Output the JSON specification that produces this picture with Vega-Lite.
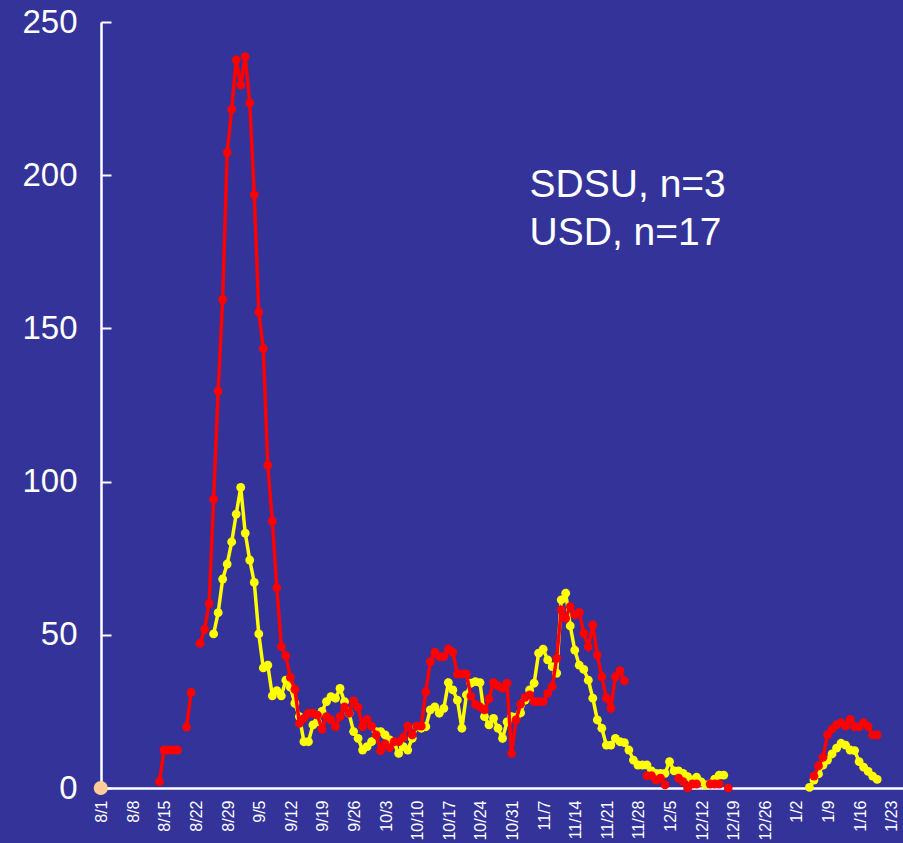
{
"$schema": "https://vega.github.io/schema/vega-lite/v6.json",
"width": 802, "height": 766,
"autosize": {"type": "none"},
"padding": {"left": 101, "top": 22, "right": 0, "bottom": 55},
"background": "#333399",
"config": {"view": {"stroke": null}, "font": "Liberation Sans"},
"data": {"values": [
{"date":"2009/08/13","red":2.1,"yellow":null},
{"date":"2009/08/14","red":12.4,"yellow":null},
{"date":"2009/08/15","red":12.4,"yellow":null},
{"date":"2009/08/16","red":12.4,"yellow":null},
{"date":"2009/08/17","red":12.4,"yellow":null},
{"date":"2009/08/18","red":null,"yellow":null},
{"date":"2009/08/19","red":19.9,"yellow":null},
{"date":"2009/08/20","red":31.2,"yellow":null},
{"date":"2009/08/21","red":null,"yellow":null},
{"date":"2009/08/22","red":47.2,"yellow":null},
{"date":"2009/08/23","red":51.8,"yellow":null},
{"date":"2009/08/24","red":60.2,"yellow":null},
{"date":"2009/08/25","red":94.3,"yellow":50.3},
{"date":"2009/08/26","red":129.5,"yellow":57.2},
{"date":"2009/08/27","red":159.4,"yellow":68.2},
{"date":"2009/08/28","red":207.4,"yellow":73.1},
{"date":"2009/08/29","red":221.5,"yellow":80.3},
{"date":"2009/08/30","red":237.6,"yellow":89.4},
{"date":"2009/08/31","red":229.4,"yellow":98.1},
{"date":"2009/09/01","red":238.7,"yellow":83.2},
{"date":"2009/09/02","red":223.6,"yellow":74.4},
{"date":"2009/09/03","red":193.6,"yellow":67.1},
{"date":"2009/09/04","red":155.3,"yellow":50.3},
{"date":"2009/09/05","red":143.4,"yellow":39.2},
{"date":"2009/09/06","red":105.4,"yellow":40.1},
{"date":"2009/09/07","red":87.1,"yellow":30.1},
{"date":"2009/09/08","red":65.4,"yellow":31.8},
{"date":"2009/09/09","red":46.1,"yellow":30.1},
{"date":"2009/09/10","red":43.1,"yellow":35.2},
{"date":"2009/09/11","red":36.1,"yellow":32.9},
{"date":"2009/09/12","red":32.2,"yellow":27.6},
{"date":"2009/09/13","red":21.1,"yellow":23.3},
{"date":"2009/09/14","red":22.7,"yellow":15.1},
{"date":"2009/09/15","red":24.4,"yellow":15.1},
{"date":"2009/09/16","red":24.4,"yellow":20.6},
{"date":"2009/09/17","red":23.8,"yellow":21.6},
{"date":"2009/09/18","red":19.2,"yellow":25.0},
{"date":"2009/09/19","red":23.3,"yellow":28.2},
{"date":"2009/09/20","red":22.2,"yellow":29.8},
{"date":"2009/09/21","red":20.0,"yellow":29.3},
{"date":"2009/09/22","red":23.3,"yellow":32.5},
{"date":"2009/09/23","red":26.5,"yellow":28.2},
{"date":"2009/09/24","red":24.4,"yellow":24.4},
{"date":"2009/09/25","red":28.4,"yellow":18.4},
{"date":"2009/09/26","red":26.3,"yellow":16.2},
{"date":"2009/09/27","red":20.0,"yellow":12.4},
{"date":"2009/09/28","red":22.4,"yellow":13.5},
{"date":"2009/09/29","red":20.2,"yellow":15.1},
{"date":"2009/09/30","red":17.3,"yellow":18.4},
{"date":"2009/10/01","red":12.2,"yellow":18.4},
{"date":"2009/10/02","red":14.4,"yellow":17.3},
{"date":"2009/10/03","red":13.2,"yellow":15.7},
{"date":"2009/10/04","red":15.1,"yellow":14.6},
{"date":"2009/10/05","red":15.1,"yellow":11.3},
{"date":"2009/10/06","red":16.5,"yellow":13.5},
{"date":"2009/10/07","red":20.2,"yellow":12.4},
{"date":"2009/10/08","red":17.3,"yellow":16.2},
{"date":"2009/10/09","red":20.2,"yellow":20.0},
{"date":"2009/10/10","red":20.2,"yellow":19.5},
{"date":"2009/10/11","red":31.4,"yellow":20.0},
{"date":"2009/10/12","red":41.2,"yellow":25.5},
{"date":"2009/10/13","red":44.3,"yellow":26.5},
{"date":"2009/10/14","red":42.9,"yellow":24.4},
{"date":"2009/10/15","red":42.9,"yellow":26.0},
{"date":"2009/10/16","red":45.4,"yellow":34.4},
{"date":"2009/10/17","red":44.3,"yellow":32.0},
{"date":"2009/10/18","red":37.2,"yellow":28.7},
{"date":"2009/10/19","red":37.2,"yellow":19.5},
{"date":"2009/10/20","red":37.2,"yellow":30.4},
{"date":"2009/10/21","red":30.0,"yellow":34.2},
{"date":"2009/10/22","red":27.3,"yellow":34.7},
{"date":"2009/10/23","red":26.5,"yellow":34.4},
{"date":"2009/10/24","red":25.5,"yellow":23.3},
{"date":"2009/10/25","red":29.1,"yellow":20.6},
{"date":"2009/10/26","red":34.4,"yellow":22.7},
{"date":"2009/10/27","red":33.3,"yellow":19.5},
{"date":"2009/10/28","red":32.5,"yellow":16.2},
{"date":"2009/10/29","red":34.2,"yellow":21.6},
{"date":"2009/10/30","red":11.3,"yellow":23.3},
{"date":"2009/10/31","red":22.2,"yellow":23.1},
{"date":"2009/11/01","red":27.4,"yellow":24.5},
{"date":"2009/11/02","red":29.6,"yellow":28.7},
{"date":"2009/11/03","red":30.4,"yellow":32.0},
{"date":"2009/11/04","red":28.2,"yellow":34.2},
{"date":"2009/11/05","red":28.2,"yellow":44.0},
{"date":"2009/11/06","red":28.2,"yellow":45.3},
{"date":"2009/11/07","red":30.9,"yellow":41.8},
{"date":"2009/11/08","red":33.1,"yellow":39.6},
{"date":"2009/11/09","red":42.3,"yellow":37.5},
{"date":"2009/11/10","red":58.1,"yellow":61.4},
{"date":"2009/11/11","red":55.4,"yellow":63.6},
{"date":"2009/11/12","red":59.2,"yellow":52.9},
{"date":"2009/11/13","red":56.5,"yellow":45.0},
{"date":"2009/11/14","red":57.3,"yellow":40.1},
{"date":"2009/11/15","red":50.5,"yellow":38.7},
{"date":"2009/11/16","red":46.1,"yellow":35.2},
{"date":"2009/11/17","red":53.2,"yellow":29.3},
{"date":"2009/11/18","red":43.4,"yellow":22.2},
{"date":"2009/11/19","red":36.3,"yellow":19.5},
{"date":"2009/11/20","red":29.3,"yellow":14.0},
{"date":"2009/11/21","red":26.0,"yellow":14.0},
{"date":"2009/11/22","red":36.3,"yellow":16.2},
{"date":"2009/11/23","red":38.3,"yellow":15.1},
{"date":"2009/11/24","red":35.0,"yellow":14.8},
{"date":"2009/11/25","red":null,"yellow":12.4},
{"date":"2009/11/26","red":null,"yellow":9.1},
{"date":"2009/11/27","red":null,"yellow":7.5},
{"date":"2009/11/28","red":null,"yellow":7.5},
{"date":"2009/11/29","red":4.0,"yellow":7.5},
{"date":"2009/11/30","red":4.0,"yellow":5.6},
{"date":"2009/12/01","red":2.6,"yellow":4.8},
{"date":"2009/12/02","red":3.2,"yellow":4.8},
{"date":"2009/12/03","red":1.0,"yellow":4.8},
{"date":"2009/12/04","red":null,"yellow":8.6},
{"date":"2009/12/05","red":null,"yellow":5.6},
{"date":"2009/12/06","red":3.2,"yellow":5.6},
{"date":"2009/12/07","red":2.1,"yellow":4.8},
{"date":"2009/12/08","red":0,"yellow":3.7},
{"date":"2009/12/09","red":1.3,"yellow":2.6},
{"date":"2009/12/10","red":1.3,"yellow":3.5},
{"date":"2009/12/11","red":null,"yellow":2.0},
{"date":"2009/12/12","red":null,"yellow":1.0},
{"date":"2009/12/13","red":1.3,"yellow":1.3},
{"date":"2009/12/14","red":1.3,"yellow":2.9},
{"date":"2009/12/15","red":1.3,"yellow":4.2},
{"date":"2009/12/16","red":null,"yellow":4.2},
{"date":"2009/12/17","red":0,"yellow":null},
{"date":"2010/01/04","red":null,"yellow":0.2},
{"date":"2010/01/05","red":3.9,"yellow":2.6},
{"date":"2010/01/06","red":7.2,"yellow":4.6},
{"date":"2010/01/07","red":10.0,"yellow":7.5},
{"date":"2010/01/08","red":17.3,"yellow":9.1},
{"date":"2010/01/09","red":19.2,"yellow":11.1},
{"date":"2010/01/10","red":20.6,"yellow":13.0},
{"date":"2010/01/11","red":21.3,"yellow":14.6},
{"date":"2010/01/12","red":20.2,"yellow":14.0},
{"date":"2010/01/13","red":22.4,"yellow":12.4},
{"date":"2010/01/14","red":20.0,"yellow":12.2},
{"date":"2010/01/15","red":20.0,"yellow":8.6},
{"date":"2010/01/16","red":21.3,"yellow":6.8},
{"date":"2010/01/17","red":20.0,"yellow":5.4},
{"date":"2010/01/18","red":17.3,"yellow":3.9},
{"date":"2010/01/19","red":17.3,"yellow":2.8}
]},
"encoding": {
  "x": {"field": "date", "type": "temporal",
    "scale": {"domain": [{"year": 2009, "month": 7, "date": 31, "hours": 1, "minutes": 8}, {"year": 2010, "month": 1, "date": 24, "hours": 17, "minutes": 17}]},
    "axis": {"title": null, "format": "%-m/%-d", "labelAngle": -90, "labelFontSize": 16, "labelColor": "white", "labelFont": "Liberation Sans",
      "domainColor": "white", "domainWidth": 2.5, "ticks": false, "tickSize": 0, "grid": false, "labelPadding": 12, "labelOffset": -3.6,
      "labelOverlap": false, "labelFlush": false, "labelBound": false,
      "values": [
        {"year":2009,"month":8,"date":1},{"year":2009,"month":8,"date":8},{"year":2009,"month":8,"date":15},{"year":2009,"month":8,"date":22},{"year":2009,"month":8,"date":29},
        {"year":2009,"month":9,"date":5},{"year":2009,"month":9,"date":12},{"year":2009,"month":9,"date":19},{"year":2009,"month":9,"date":26},
        {"year":2009,"month":10,"date":3},{"year":2009,"month":10,"date":10},{"year":2009,"month":10,"date":17},{"year":2009,"month":10,"date":24},{"year":2009,"month":10,"date":31},
        {"year":2009,"month":11,"date":7},{"year":2009,"month":11,"date":14},{"year":2009,"month":11,"date":21},{"year":2009,"month":11,"date":28},
        {"year":2009,"month":12,"date":5},{"year":2009,"month":12,"date":12},{"year":2009,"month":12,"date":19},{"year":2009,"month":12,"date":26},
        {"year":2010,"month":1,"date":2},{"year":2010,"month":1,"date":9},{"year":2010,"month":1,"date":16},{"year":2010,"month":1,"date":23}
      ]}}
},
"layer": [
  {"mark": {"type": "line", "color": "#FFFF00", "strokeWidth": 3.5, "invalid": "break-paths-filter-domains"},
   "encoding": {"y": {"field": "yellow", "type": "quantitative", "title": null,
     "scale": {"domain": [0, 250], "nice": false},
     "axis": {"title": null, "values": [0, 50, 100, 150, 200, 250], "labelFontSize": 33, "labelColor": "white", "labelFont": "Liberation Sans",
       "domainColor": "white", "domainWidth": 2.5, "ticks": true, "tickSize": -10, "tickColor": "white", "tickWidth": 2, "grid": false, "labelPadding": 34}}}},
  {"mark": {"type": "point", "filled": true, "color": "#FFFF00", "size": 78, "opacity": 1, "invalid": "filter"},
   "encoding": {"y": {"field": "yellow", "type": "quantitative", "title": null}}},
  {"mark": {"type": "line", "color": "#FF0000", "strokeWidth": 3.5, "invalid": "break-paths-filter-domains"},
   "encoding": {"y": {"field": "red", "type": "quantitative", "title": null}}},
  {"mark": {"type": "point", "filled": true, "color": "#FF0000", "size": 78, "opacity": 1, "invalid": "filter"},
   "encoding": {"y": {"field": "red", "type": "quantitative", "title": null}}},
  {"data": {"values": [{"date": "2009/07/31", "value": 0}]},
   "mark": {"type": "point", "filled": true, "color": "#FFCC99", "size": 200, "opacity": 1},
   "encoding": {"y": {"field": "value", "type": "quantitative", "title": null}}},
  {"data": {"values": [{"date": "2009/11/03", "value": 192.8, "label": "SDSU, n=3"}, {"date": "2009/11/03", "value": 177.2, "label": "USD, n=17"}]},
   "mark": {"type": "text", "align": "left", "baseline": "alphabetic", "fontSize": 39, "color": "white", "font": "Liberation Sans"},
   "encoding": {"y": {"field": "value", "type": "quantitative", "title": null}, "text": {"field": "label"}}}
]
}
